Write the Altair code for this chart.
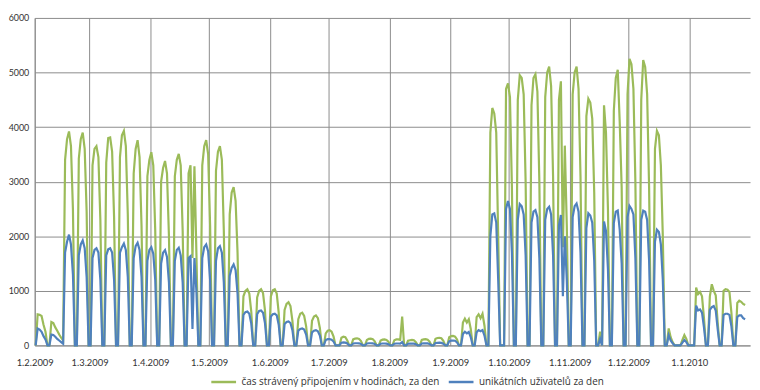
import datetime as dt
import altair as alt
import pandas as pd

S_GREEN = "čas strávený připojením v hodinách, za den"
S_BLUE = "unikátních uživatelů za den"

# first day of the series (a Sunday); each row below is one week Sun..Sat
start_date = dt.date(2009, 2, 1)

green_weeks = [
    [0, 570, 560, 540, 380, 250, 0],
    [0, 430, 410, 330, 270, 200, 140],
    [90, 3400, 3780, 3920, 3650, 2500, 0],
    [0, 3420, 3780, 3900, 3600, 2450, 0],
    [0, 3300, 3600, 3650, 3450, 2300, 0],
    [0, 3350, 3800, 3810, 3550, 2350, 0],
    [0, 3450, 3850, 3930, 3650, 2400, 0],
    [0, 3150, 3600, 3760, 3450, 2200, 0],
    [0, 3100, 3400, 3540, 3300, 2100, 0],
    [0, 3000, 3250, 3380, 3150, 2000, 0],
    [0, 3100, 3400, 3510, 3300, 2100, 0],
    [0, 3150, 3300, 1600, 3280, 1700, 0],
    [0, 3300, 3650, 3760, 3500, 2200, 0],
    [0, 3200, 3550, 3650, 3400, 2100, 0],
    [0, 2400, 2800, 2900, 2650, 1700, 0],
    [0, 900, 1000, 1030, 950, 620, 0],
    [0, 880, 1000, 1030, 960, 640, 0],
    [0, 900, 1010, 1030, 950, 600, 0],
    [0, 650, 760, 790, 720, 450, 0],
    [0, 480, 580, 600, 540, 350, 0],
    [0, 450, 530, 550, 500, 320, 0],
    [0, 220, 270, 280, 250, 160, 0],
    [0, 0, 140, 160, 150, 90, 0],
    [0, 110, 125, 130, 120, 80, 0],
    [0, 100, 120, 125, 115, 75, 0],
    [0, 90, 105, 110, 100, 70, 0],
    [0, 95, 110, 110, 100, 530, 0],
    [0, 85, 95, 100, 95, 60, 0],
    [0, 100, 110, 115, 105, 70, 0],
    [0, 120, 135, 140, 130, 85, 0],
    [0, 150, 170, 175, 160, 110, 0],
    [0, 420, 490, 420, 480, 300, 0],
    [0, 520, 570, 500, 580, 360, 0],
    [0, 3900, 4350, 4250, 3900, 2000, 0],
    [0, 0, 4700, 4800, 4550, 2900, 0],
    [0, 4500, 4950, 4900, 4600, 3000, 0],
    [0, 4400, 4900, 4970, 4650, 3000, 0],
    [0, 4550, 5000, 5110, 4750, 3100, 0],
    [0, 4500, 4840, 1800, 3660, 2200, 0],
    [0, 4600, 5000, 5110, 4700, 3100, 0],
    [0, 4200, 4520, 4450, 4150, 2800, 0],
    [0, 250, 0, 4400, 3900, 2500, 0],
    [0, 4300, 4900, 5050, 4100, 2900, 0],
    [0, 4600, 5250, 5150, 4700, 3000, 0],
    [0, 4500, 5230, 5100, 4600, 2900, 0],
    [0, 3600, 3930, 3850, 3300, 2000, 0],
    [0, 310, 150, 60, 0, 0, 0],
    [0, 100, 190, 120, 0, 0, 0],
    [0, 1060, 940, 980, 900, 500, 0],
    [0, 900, 1120, 1000, 920, 420, 0],
    [0, 1000, 1030, 1020, 980, 600, 0],
    [0, 780, 820, 800, 760, 740],
]

blue_weeks = [
    [0, 310, 290, 250, 170, 110, 0],
    [0, 200, 190, 160, 120, 90, 60],
    [30, 1700, 1900, 2030, 1850, 1300, 0],
    [0, 1650, 1850, 1925, 1780, 1250, 0],
    [0, 1600, 1750, 1780, 1700, 1200, 0],
    [0, 1650, 1760, 1780, 1700, 1200, 0],
    [0, 1700, 1800, 1865, 1750, 1250, 0],
    [0, 1600, 1820, 1880, 1750, 1250, 0],
    [0, 1550, 1750, 1800, 1680, 1200, 0],
    [0, 1500, 1700, 1745, 1620, 1150, 0],
    [0, 1550, 1750, 1790, 1650, 1150, 0],
    [0, 1600, 1635, 300, 1600, 1000, 0],
    [0, 1600, 1800, 1850, 1720, 1200, 0],
    [0, 1550, 1780, 1820, 1700, 1150, 0],
    [0, 1275, 1420, 1485, 1380, 950, 0],
    [0, 560, 610, 620, 580, 400, 0],
    [0, 570, 630, 640, 600, 410, 0],
    [0, 530, 570, 580, 550, 380, 0],
    [0, 390, 430, 440, 410, 280, 0],
    [0, 270, 300, 310, 290, 200, 0],
    [0, 240, 270, 280, 260, 180, 0],
    [0, 100, 115, 115, 105, 70, 0],
    [0, 0, 50, 55, 50, 35, 0],
    [0, 35, 40, 40, 38, 25, 0],
    [0, 35, 40, 40, 38, 25, 0],
    [0, 30, 35, 35, 33, 22, 0],
    [0, 30, 35, 35, 33, 60, 0],
    [0, 30, 33, 35, 32, 22, 0],
    [0, 35, 38, 40, 37, 25, 0],
    [0, 42, 48, 50, 46, 30, 0],
    [0, 75, 88, 90, 85, 55, 0],
    [0, 210, 250, 220, 245, 150, 0],
    [0, 240, 280, 260, 280, 180, 0],
    [0, 2000, 2400, 2420, 2250, 1200, 0],
    [0, 0, 2500, 2645, 2500, 1700, 0],
    [0, 2300, 2590, 2550, 2400, 1650, 0],
    [0, 2250, 2450, 2480, 2350, 1600, 0],
    [0, 2300, 2500, 2540, 2400, 1650, 0],
    [0, 2200, 2390, 900, 2000, 1200, 0],
    [0, 2350, 2550, 2600, 2450, 1700, 0],
    [0, 2150, 2420, 2380, 2250, 1550, 0],
    [0, 120, 0, 2270, 2100, 1400, 0],
    [0, 2240, 2450, 2470, 2120, 1500, 0],
    [0, 2350, 2555, 2500, 2400, 1600, 0],
    [0, 2300, 2470, 2450, 2300, 1550, 0],
    [0, 1900, 2120, 2080, 1850, 1200, 0],
    [0, 190, 90, 40, 0, 0, 0],
    [0, 50, 100, 60, 0, 0, 0],
    [0, 730, 640, 660, 600, 330, 0],
    [0, 650, 700, 720, 640, 300, 0],
    [0, 560, 580, 580, 560, 350, 0],
    [0, 520, 550, 550, 500, 480],
]

y_ticks = [0, 1000, 2000, 3000, 4000, 5000, 6000]
series_names = [S_GREEN, S_BLUE]
series_colors = ["#9BBB59", "#4F81BD"]

rows = []
for name, weeks in ((S_GREEN, green_weeks), (S_BLUE, blue_weeks)):
    flat = [v for w in weeks for v in w]
    for i, v in enumerate(flat):
        d = start_date + dt.timedelta(days=i)
        rows.append({"date": d.isoformat() + "T12:00:00", "value": v, "series": name})
df = pd.DataFrame(rows)

GRID = "#8c8c8c"
FONT = "Lato"
TEXT = "#333333"

chart = (
    alt.Chart(df)
    .mark_line(strokeWidth=2.2)
    .encode(
        x=alt.X(
            "date:T",
            scale=alt.Scale(
                domain=[
                    alt.DateTime(year=2009, month=2, date=1),
                    alt.DateTime(year=2010, month=1, date=31, hours=23, minutes=59),
                ]
            ),
            axis=alt.Axis(
                title=None,
                tickCount={"interval": "month", "step": 1},
                labelExpr="date(datum.value) + '.' + (month(datum.value) + 1) + '.' + year(datum.value)",
                grid=True,
                gridColor=GRID,
                gridWidth=1,
                ticks=False,
                domainColor=GRID,
                labelFlush=False,
                labelOverlap=False,
                labelPadding=12,
                labelFont=FONT,
                labelFontSize=9.5,
                labelColor=TEXT,
            ),
        ),
        y=alt.Y(
            "value:Q",
            scale=alt.Scale(domain=[0, 6000], nice=False),
            axis=alt.Axis(
                title=None,
                values=y_ticks,
                format="d",
                grid=True,
                gridColor=GRID,
                gridWidth=1,
                ticks=False,
                domainColor=GRID,
                labelPadding=6,
                labelFont=FONT,
                labelFontSize=9,
                labelColor=TEXT,
            ),
        ),
        color=alt.Color(
            "series:N",
            scale=alt.Scale(domain=series_names, range=series_colors),
            legend=alt.Legend(
                title=None,
                orient="none",
                legendX=177,
                legendY=354,
                direction="horizontal",
                symbolType="stroke",
                symbolStrokeWidth=2.5,
                symbolSize=625,
                labelFont="Open Sans",
                labelFontSize=10,
                labelColor=TEXT,
                columnPadding=3,
                labelLimit=400,
            ),
        ),
        order=alt.Order("date:T"),
    )
    .properties(
        width=723,
        height=331,
        autosize=alt.AutoSizeParams(type="none"),
        padding={"left": 27, "top": 8, "right": 2, "bottom": 40},
    )
    .configure_view(stroke=None)
)

chart.save("out.html", embed_options={"renderer": "svg", "actions": False})
